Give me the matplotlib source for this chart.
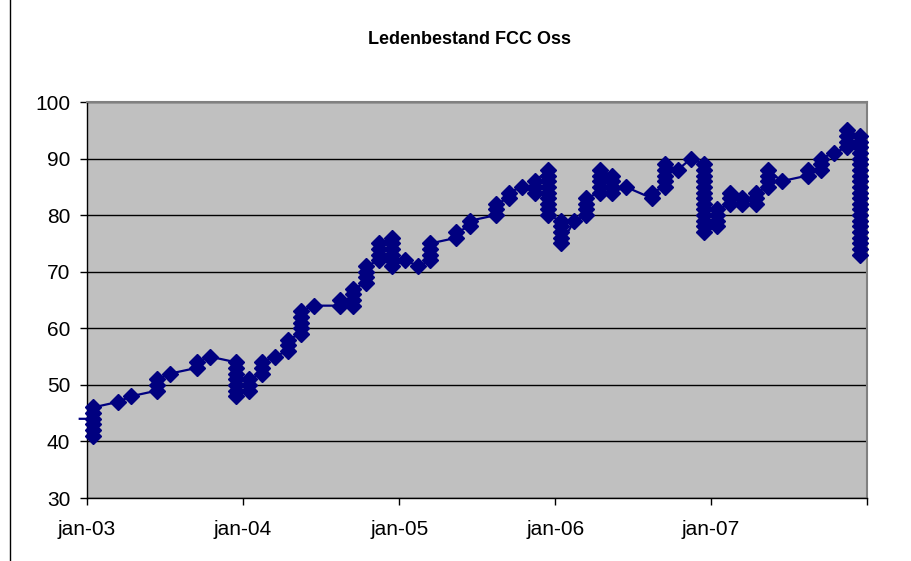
import matplotlib
matplotlib.use("Agg")
import matplotlib.pyplot as plt
import matplotlib.dates as mdates
from matplotlib.lines import Line2D
import datetime

# member counts per month (all entries of a month are drawn on the 15th)
months = ["2002-12", "2003-01", "2003-03", "2003-04", "2003-06", "2003-07",
          "2003-09", "2003-10", "2003-12", "2004-01", "2004-02", "2004-03",
          "2004-04", "2004-05", "2004-06", "2004-08", "2004-09", "2004-10",
          "2004-11", "2004-12", "2005-01", "2005-02", "2005-03", "2005-05",
          "2005-06", "2005-08", "2005-09", "2005-10", "2005-11", "2005-12",
          "2006-01", "2006-02", "2006-03", "2006-04", "2006-05", "2006-06",
          "2006-08", "2006-09", "2006-10", "2006-11", "2006-12", "2007-01",
          "2007-02", "2007-03", "2007-04", "2007-05", "2007-06", "2007-08",
          "2007-09", "2007-10", "2007-11", "2007-12"]
members = [
    [44],
    [44, 43, 42, 41, 45, 46],
    [47],
    [48],
    [49, 50, 51],
    [52],
    [53, 54],
    [55],
    [54, 53, 52, 51, 50, 49, 48],
    [49, 50, 51],
    [52, 53, 54],
    [55],
    [56, 57, 58],
    [59, 60, 61, 62, 63],
    [64],
    [64, 65],
    [64, 65, 66, 67],
    [68, 69, 70, 71],
    [72, 73, 74, 75],
    [76, 75, 74, 73, 72, 71],
    [72],
    [71],
    [72, 73, 74, 75],
    [76, 77],
    [78, 79],
    [80, 81, 82],
    [83, 84],
    [85],
    [84, 85, 86],
    [88, 87, 86, 85, 84, 83, 82, 81, 80],
    [79, 78, 77, 76, 75],
    [79],
    [80, 81, 82, 83],
    [84, 85, 86, 87, 88],
    [87, 86, 85, 84],
    [85],
    [83, 84],
    [85, 86, 87, 88, 89],
    [88],
    [90],
    [89, 88, 87, 86, 85, 84, 83, 82, 81, 80, 79, 78, 77],
    [78, 79, 80, 81],
    [82, 83, 84],
    [82, 83],
    [82, 83, 84],
    [85, 86, 87, 88],
    [86],
    [87, 88],
    [88, 89, 90],
    [91],
    [92, 93, 94, 95],
    [94, 93, 92, 91, 90, 89, 88, 87, 86, 85, 84, 83, 82, 81, 80, 79, 78,
     77, 76, 75, 74, 73],
]
year_ticks = [2003, 2004, 2005, 2006, 2007, 2008]
xtick_labels = ["jan-03", "jan-04", "jan-05", "jan-06", "jan-07", ""]
title = "Ledenbestand FCC Oss"

dates = []
values = []
for m, vals in zip(months, members):
    y, mo = m.split("-")
    for v in vals:
        dates.append(datetime.datetime(int(y), int(mo), 15))
        values.append(v)

xmin = datetime.datetime(year_ticks[0], 1, 1)
xmax = datetime.datetime(year_ticks[-1], 1, 1)

plt.rcParams["font.family"] = ["Liberation Sans", "DejaVu Sans"]
navy = "#000080"

fig = plt.figure(figsize=(9.11, 5.61), dpi=100)
ax = fig.add_axes([87 / 911, 1 - 498 / 561, 780 / 911, 396 / 561])
ax.set_facecolor("#c0c0c0")

ax.plot(dates, values, color=navy, lw=1.6, clip_on=False, zorder=3)
# the december 2002 point only feeds the line, it sits left of the axis
md = [d for d in dates if d >= xmin]
mv = [v for d, v in zip(dates, values) if d >= xmin]
ax.plot(md, mv, ls="none", marker="D", ms=8, color=navy, mec=navy,
        clip_on=False, zorder=4)

ax.set_xlim(xmin, xmax)
ax.set_ylim(30, 100)
ax.set_yticks(range(30, 101, 10))
ax.set_xticks([datetime.datetime(y, 1, 1) for y in year_ticks])
ax.set_xticklabels(xtick_labels)
ax.yaxis.grid(True, color="black", lw=1)
ax.set_axisbelow(True)
ax.tick_params(axis="both", direction="out", length=5, width=1,
               color="black", labelsize=15)
ax.tick_params(axis="x", pad=11)
ax.tick_params(axis="y", pad=7)

for s in ["left", "bottom"]:
    ax.spines[s].set_color("black")
    ax.spines[s].set_linewidth(1)
for s in ["top", "right"]:
    ax.spines[s].set_color("#808080")
    ax.spines[s].set_linewidth(1.5)

fig.text(470 / 911, 1 - 39 / 561, title, ha="center", va="center",
         fontweight="bold", fontsize=13)

fig.add_artist(Line2D([10 / 911, 10 / 911], [0, 1], color="black", lw=1))

fig.savefig("out.png", dpi=100)
